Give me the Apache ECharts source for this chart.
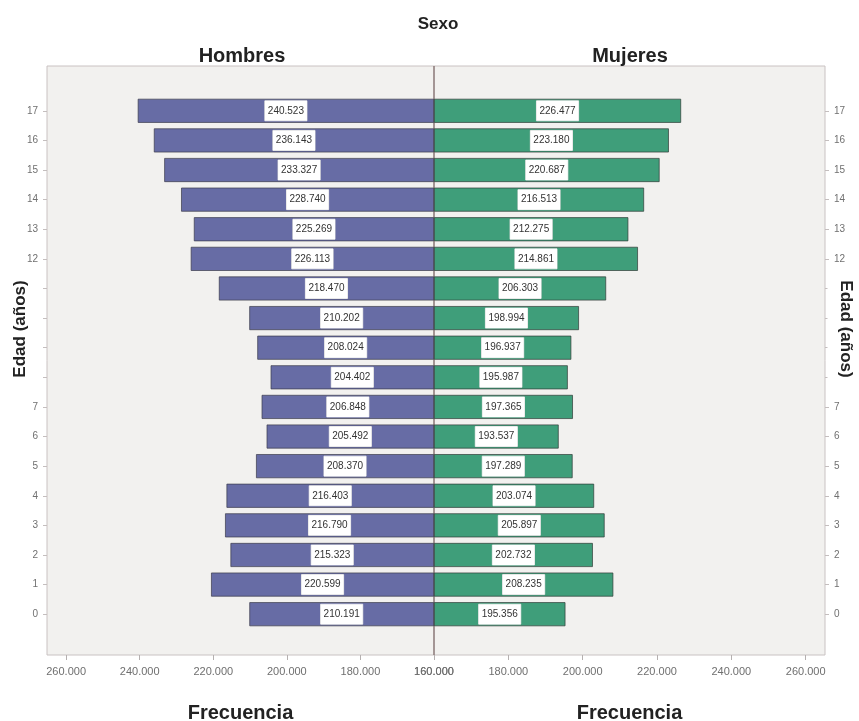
<!DOCTYPE html>
<html>
<head>
<meta charset="utf-8">
<script src="https://cdn.jsdelivr.net/npm/echarts@6/dist/echarts.min.js"></script>
<style>
  html, body { margin: 0; padding: 0; background: #ffffff; }
  #chart { width: 859px; height: 721px; }
</style>
</head>
<body>
<div id="chart"></div>
<script>
// Age groups, youngest first (drawn bottom to top)
const ages = ['0', '1', '2', '3', '4', '5', '6', '7', '8', '9', '10', '11', '12', '13', '14', '15', '16', '17'];

// Population counts per age
const hombres = [210191, 220599, 215323, 216790, 216403, 208370, 205492, 206848, 204402, 208024,
                 210202, 218470, 226113, 225269, 228740, 233327, 236143, 240523];
const mujeres = [195356, 208235, 202732, 205897, 203074, 197289, 193537, 197365, 195987, 196937,
                 198994, 206303, 214861, 212275, 216513, 220687, 223180, 226477];

// Frequency axis tick values (both halves share the same baseline)
const freqTicks = [160000, 180000, 200000, 220000, 240000, 260000];
const freqMin = 160000;
const freqMax = 265200;

// Spanish-style thousands separator
function fmt(v) {
  return Math.round(v).toString().replace(/\B(?=(\d{3})+(?!\d))/g, '.');
}

const FONT = "'Liberation Sans', Arial, sans-serif";
const NARROW = "'Liberation Sans Narrow', 'Liberation Sans', Arial, sans-serif";

const barLabel = {
  show: true,
  position: 'inside',
  formatter: p => fmt(p.value),
  color: '#333',
  fontFamily: FONT,
  fontSize: 10,
  backgroundColor: '#ffffff',
  borderColor: '#d6d6d6',
  borderWidth: 0.5,
  padding: [5, 3]
};

function freqAxis(gridIndex, inverse) {
  return {
    gridIndex: gridIndex,
    type: 'value',
    inverse: inverse,
    min: freqMin,
    max: freqMax,
    startValue: freqMin,
    offset: 26,
    axisLine: { show: false },
    splitLine: { show: false },
    axisTick: { show: true, customValues: freqTicks, length: 5, lineStyle: { color: '#b5b0b0' } },
    axisLabel: { customValues: freqTicks, formatter: fmt, color: '#6f6f6f', fontFamily: NARROW, fontSize: 11, margin: 11 },
    name: 'Frecuencia',
    nameLocation: 'middle',
    nameGap: 48,
    nameTextStyle: { color: '#222', fontFamily: FONT, fontWeight: 'bold', fontSize: 20 }
  };
}

function ageAxis(gridIndex, position) {
  return {
    gridIndex: gridIndex,
    type: 'category',
    data: ages,
    position: position,
    axisLine: { show: false },
    axisTick: { show: true, alignWithLabel: true, length: 4, lineStyle: { color: '#c4bebe' } },
    axisLabel: { color: '#707070', fontFamily: FONT, fontSize: 10, margin: 9 }
  };
}

const chart = echarts.init(document.getElementById('chart'), null, { renderer: 'canvas' });

chart.setOption({
  backgroundColor: '#ffffff',
  animation: false,
  title: [
    { text: 'Sexo', left: 433, top: 11, textAlign: 'center',
      textStyle: { color: '#222', fontFamily: FONT, fontWeight: 'bold', fontSize: 17 } },
    { text: 'Hombres', left: 237, top: 41, textAlign: 'center',
      textStyle: { color: '#222', fontFamily: FONT, fontWeight: 'bold', fontSize: 20 } },
    { text: 'Mujeres', left: 625, top: 41, textAlign: 'center',
      textStyle: { color: '#222', fontFamily: FONT, fontWeight: 'bold', fontSize: 20 } }
  ],
  graphic: [
    { type: 'rect', z: 0, silent: true,
      shape: { x: 47, y: 66, width: 778, height: 589 },
      style: { fill: '#f2f1ef', stroke: '#c9c2c2', lineWidth: 1 } },
    { type: 'line', z: 1, silent: true,
      shape: { x1: 434, y1: 66, x2: 434, y2: 655 },
      style: { stroke: '#8a7777', lineWidth: 1.5 } },
    // Axis titles sit on a white plate so they hide the age labels beneath them
    { type: 'text', z: 10, x: 20, y: 329, rotation: Math.PI / 2,
      style: { text: 'Edad (años)', fill: '#222', font: "bold 17px 'Liberation Sans', Arial, sans-serif",
               align: 'center', verticalAlign: 'middle', backgroundColor: '#ffffff', padding: [11, 4] } },
    { type: 'text', z: 10, x: 846, y: 329, rotation: -Math.PI / 2,
      style: { text: 'Edad (años)', fill: '#222', font: "bold 17px 'Liberation Sans', Arial, sans-serif",
               align: 'center', verticalAlign: 'middle', backgroundColor: '#ffffff', padding: [10, 4] } }
  ],
  grid: [
    { left: 47, width: 387, top: 96, height: 533, outerBoundsMode: 'none', containLabel: false },
    { left: 434, width: 391, top: 96, height: 533, outerBoundsMode: 'none', containLabel: false }
  ],
  xAxis: [freqAxis(0, true), freqAxis(1, false)],
  yAxis: [ageAxis(0, 'left'), ageAxis(1, 'right')],
  series: [
    {
      name: 'Hombres',
      type: 'bar',
      xAxisIndex: 0,
      yAxisIndex: 0,
      data: hombres,
      barCategoryGap: '19%',
      itemStyle: { color: '#676ca5', borderColor: '#3b3b4a', borderWidth: 0.7 },
      label: barLabel
    },
    {
      name: 'Mujeres',
      type: 'bar',
      xAxisIndex: 1,
      yAxisIndex: 1,
      data: mujeres,
      barCategoryGap: '19%',
      itemStyle: { color: '#3f9e7a', borderColor: '#2f3b36', borderWidth: 0.7 },
      label: barLabel
    }
  ]
});
</script>
</body>
</html>
